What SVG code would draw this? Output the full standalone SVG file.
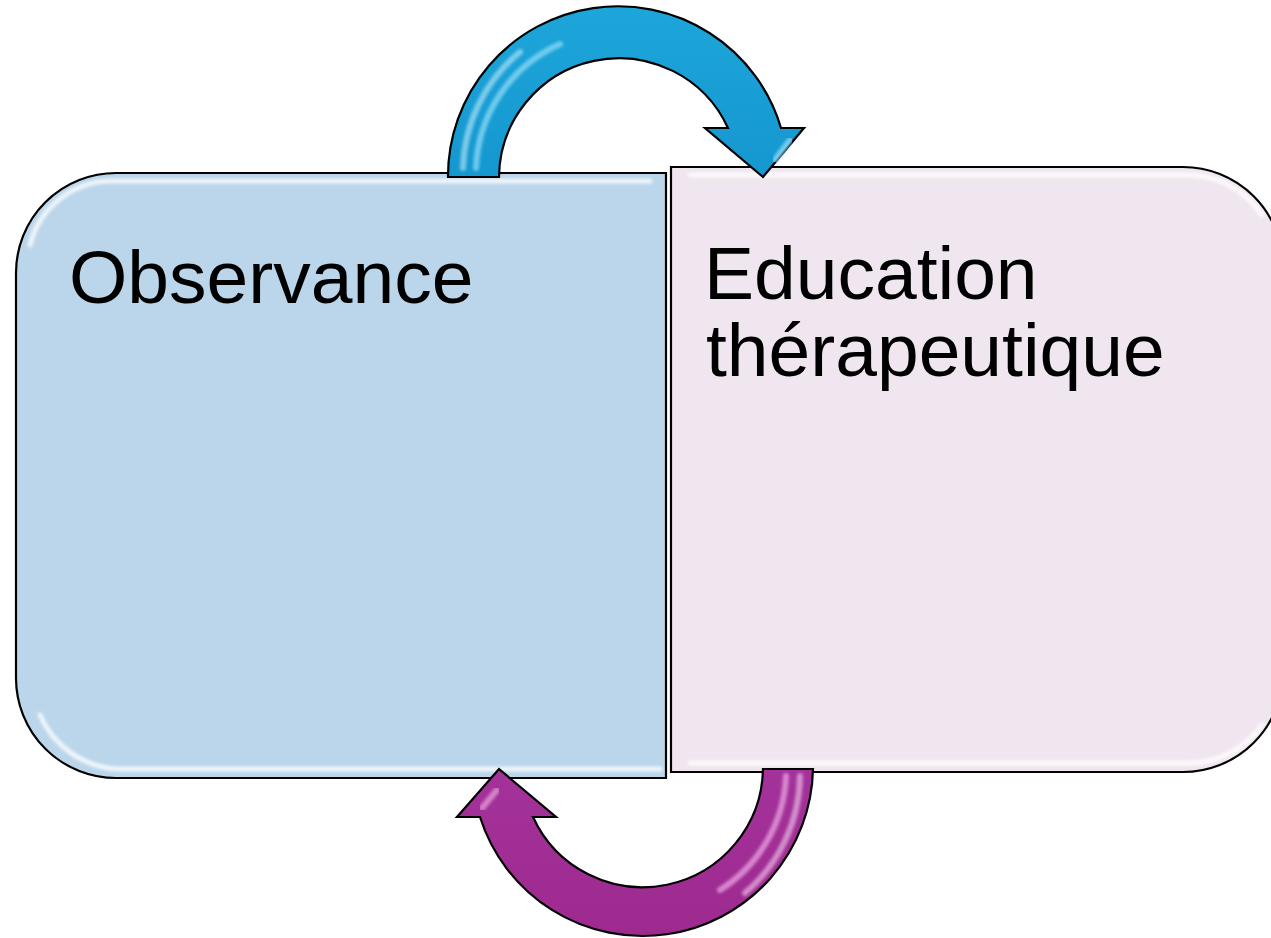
<svg xmlns="http://www.w3.org/2000/svg" width="1271" height="938" viewBox="0 0 1271 938">
  <defs>
    <style>
      .box { stroke: #000; stroke-width: 2.2; }
      .bevel { fill: none; stroke: #fff; stroke-width: 5; stroke-linecap: round; opacity: 0.75; filter: url(#soft); }
      .label { font-family: "Liberation Sans", Arial, sans-serif; font-size: 75px; fill: #000; }
      .arrow { stroke: #000; stroke-width: 2.2; stroke-linejoin: miter; }
      .shine { fill: none; stroke-width: 6; stroke-linecap: round; filter: url(#soft); }
    </style>
    <filter id="soft" x="-10%" y="-10%" width="120%" height="120%">
      <feGaussianBlur stdDeviation="1.5"/>
    </filter>
    <linearGradient id="blueFill" x1="0" y1="0" x2="0" y2="1">
      <stop offset="0" stop-color="#1DA6DA"/>
      <stop offset="1" stop-color="#1597CF"/>
    </linearGradient>
    <linearGradient id="purpleFill" x1="0" y1="0" x2="0" y2="1">
      <stop offset="0" stop-color="#A3329A"/>
      <stop offset="1" stop-color="#9E2A8F"/>
    </linearGradient>
  </defs>

  <g id="node-observance">
    <path class="box" fill="#BBD6EA" d="M116,173 L666,173 L666,778 L116,778 A100,100 0 0 1 16,678 L16,273 A100,100 0 0 1 116,173 Z"/>
    <path class="bevel" d="M30,245 A84,84 0 0 1 114,181 L650,181"/>
    <path class="bevel" d="M40,715 A90,90 0 0 0 116,769 L660,769"/>
    <text class="label" x="69" y="303">Observance</text>
  </g>

  <g id="node-education">
    <path class="box" fill="#F0E6EF" d="M671,167 L1183,167 A100,100 0 0 1 1283,267 L1283,672 A100,100 0 0 1 1183,772 L671,772 Z"/>
    <path class="bevel" d="M690,175 L1183,175 A90,90 0 0 1 1262,215"/>
    <path class="bevel" d="M690,763 L1183,763 A90,90 0 0 0 1262,725"/>
    <text class="label" x="704" y="299">Education</text>
    <text class="label" x="706" y="376">thérapeutique</text>
  </g>

  <g id="connectors">
    <g id="arrow-top">
      <path class="arrow" fill="url(#blueFill)" d="M448,177 A170,170 0 0 1 781,128 L804,128 L763,177 L705,128 L728,128 A120,120 0 0 0 499,177 Z"/>
      <path class="shine" stroke="#7FD3F3" opacity="0.85" d="M476,168 A142,142 0 0 1 560,44"/>
      <path class="shine" stroke="#BFEAFA" opacity="0.6" stroke-width="3" d="M463,168 A156,156 0 0 1 520,52"/>
      <path class="shine" stroke="#8ED8F5" opacity="0.8" d="M775,160 L790,140"/>
    </g>
    <g id="arrow-bottom">
      <path class="arrow" fill="url(#purpleFill)" d="M813,769 A170.5,170.5 0 0 1 480,817 L457,817 L499,769 L556,817 L533,817 A120.5,120.5 0 0 0 763,769 Z"/>
      <path class="shine" stroke="#E59BDD" opacity="0.8" d="M786,776 A142,142 0 0 1 720,890"/>
      <path class="shine" stroke="#F4CDEF" opacity="0.6" stroke-width="3" d="M800,776 A156,156 0 0 1 745,893"/>
      <path class="shine" stroke="#E8A6E0" opacity="0.7" d="M497,790 L482,808"/>
    </g>
  </g>
</svg>
